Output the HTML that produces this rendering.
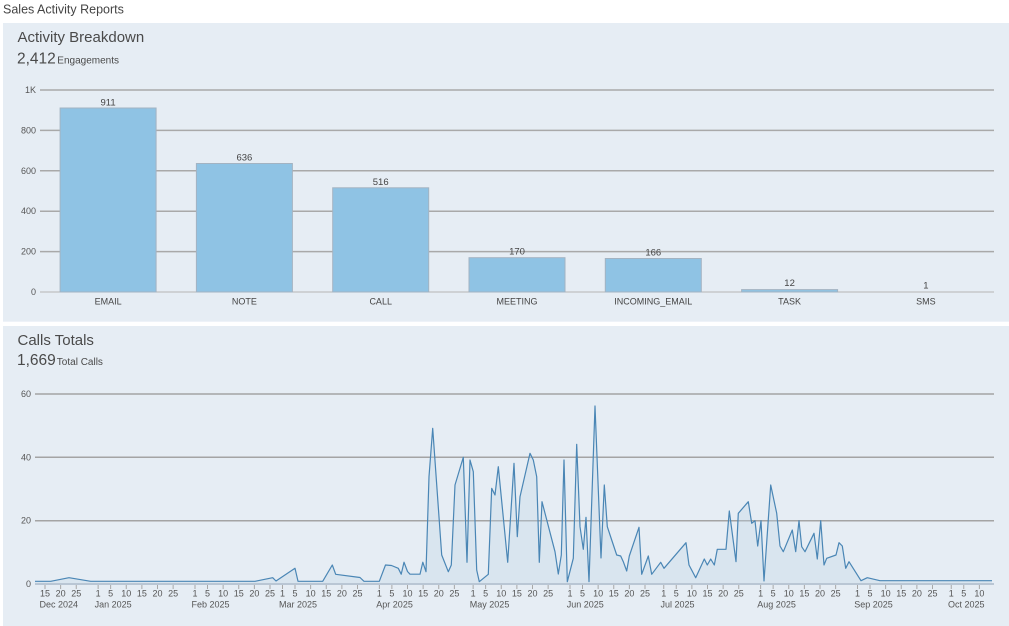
<!DOCTYPE html>
<html>
<head>
<meta charset="utf-8">
<style>
  html,body{margin:0;padding:0;background:#ffffff;}
  body{width:1009px;height:626px;overflow:hidden;}
  svg{display:block;font-family:"Liberation Sans",Arial,sans-serif;}
</style>
</head>
<body>
<svg width="1009" height="626" viewBox="0 0 1009 626" xmlns="http://www.w3.org/2000/svg">
  <rect x="0" y="0" width="1009" height="626" fill="#ffffff"/>
  <text x="3" y="13.5" font-size="12.5" fill="#444">Sales Activity Reports</text>

  <!-- Panel 1 -->
  <rect x="3" y="23" width="1006" height="298.7" fill="#e6edf4"/>
  <text x="17.5" y="42" font-size="15" fill="#4a4a4a">Activity Breakdown</text>
  <text x="17" y="63.3" font-size="15.5" fill="#4a4a4a">2,412<tspan font-size="10" dx="1.5">Engagements</tspan></text>

  <g font-size="9" fill="#555" text-anchor="end">
    <text x="36" y="93">1K</text>
    <text x="36" y="133.4">800</text>
    <text x="36" y="173.8">600</text>
    <text x="36" y="214.2">400</text>
    <text x="36" y="254.6">200</text>
    <text x="36" y="295">0</text>
  </g>
  <g stroke="#a9a9a9" stroke-width="1.5">
    <line x1="40" y1="90" x2="994" y2="90"/>
    <line x1="40" y1="130.4" x2="994" y2="130.4"/>
    <line x1="40" y1="170.8" x2="994" y2="170.8"/>
    <line x1="40" y1="211.2" x2="994" y2="211.2"/>
    <line x1="40" y1="251.6" x2="994" y2="251.6"/>
  </g>
  <line x1="40" y1="292" x2="994" y2="292" stroke="#b5b5b5" stroke-width="1"/>

  <g fill="#8fc3e4" stroke="#a3b3c2" stroke-width="1">
    <rect x="60.1" y="108" width="96" height="184"/>
    <rect x="196.4" y="163.5" width="96" height="128.5"/>
    <rect x="332.7" y="187.8" width="96" height="104.2"/>
    <rect x="469" y="257.7" width="96" height="34.3"/>
    <rect x="605.3" y="258.5" width="96" height="33.5"/>
    <rect x="741.6" y="289.6" width="96" height="2.4"/>
  </g>
  <g font-size="9.5" fill="#444" text-anchor="middle">
    <text x="108.1" y="105.5">911</text>
    <text x="244.4" y="160.5">636</text>
    <text x="380.7" y="184.8">516</text>
    <text x="517" y="254.7">170</text>
    <text x="653.3" y="255.5">166</text>
    <text x="789.6" y="286">12</text>
    <text x="925.9" y="288.5">1</text>
  </g>
  <g font-size="9" fill="#444" text-anchor="middle">
    <text x="108.1" y="304.3">EMAIL</text>
    <text x="244.4" y="304.3">NOTE</text>
    <text x="380.7" y="304.3">CALL</text>
    <text x="517" y="304.3">MEETING</text>
    <text x="653.3" y="304.3">INCOMING_EMAIL</text>
    <text x="789.6" y="304.3">TASK</text>
    <text x="925.9" y="304.3">SMS</text>
  </g>

  <!-- Panel 2 -->
  <rect x="3" y="326" width="1006" height="300" fill="#e6edf4"/>
  <text x="17.5" y="345" font-size="15" fill="#4a4a4a">Calls Totals</text>
  <text x="17" y="365" font-size="15.5" fill="#4a4a4a">1,669<tspan font-size="10" dx="1">Total Calls</tspan></text>

  <g font-size="9" fill="#555" text-anchor="end">
    <text x="31" y="397">60</text>
    <text x="31" y="460.3">40</text>
    <text x="31" y="523.7">20</text>
    <text x="31" y="587">0</text>
  </g>
  <g stroke="#a4a4a4" stroke-width="1.5">
    <line x1="35" y1="394" x2="994" y2="394"/>
    <line x1="35" y1="457.3" x2="994" y2="457.3"/>
    <line x1="35" y1="520.7" x2="994" y2="520.7"/>
  </g>

  <path fill="rgba(190,210,230,0.32)" stroke="none" d="M35,584 L35,581.3 L50.7,581.3 L69,577.7 L90.7,581.3 L255,581.3 L272.7,577.7 L276,581 L295,568.3 L298,581.3 L322.7,581.3 L332.3,565 L335.7,574.3 L360,577.5 L364,581.3 L379.3,581.3 L385.5,565 L391.5,565.5 L398.3,568.3 L401.2,574.2 L404,562.2 L407.5,571.5 L410,574.2 L420,574.2 L422.8,562.2 L426,571.7 L429,476.7 L432.7,428.3 L441.7,555 L448.3,571.7 L451.3,565 L455,485 L463.3,457.3 L467,562.3 L470,460 L473.3,471.7 L476.7,570 L479.3,581.7 L488.3,574.3 L491.7,488.3 L495,495 L498.3,466.7 L507.7,562.3 L514,463.3 L517.3,536.7 L520,496.7 L530,453.3 L533.3,460 L536.7,476.7 L539.3,562.3 L542,501.7 L555,551.7 L558.3,574 L561.3,555 L564,460 L567.3,581.7 L573.3,558.3 L576.7,444.3 L580,526.7 L583.3,549.3 L586,517.3 L589,581.7 L595,406 L601,558 L604.3,485 L607.3,526.7 L611.7,540 L616.7,555 L620.7,556 L623.3,561.7 L626.7,571 L629.3,556 L639,527.3 L641.7,574.3 L648.3,556 L651.7,574.3 L660.7,562.3 L664,568.3 L686,542.7 L689,565 L695.7,577.7 L704.3,559 L707.3,565 L710.7,559 L714.3,565 L717.3,549.3 L726,549.3 L729.3,511 L736,561.7 L738.3,513.3 L748.3,501.7 L751.7,523.3 L755,520.7 L757.7,546 L761,520.7 L764,581 L770.7,485 L776.7,513.3 L780,546 L783.3,551.7 L792.3,530 L795.7,551.7 L799,520.7 L801.7,546.7 L805,551.7 L814,533.3 L817.3,559 L820.7,520.7 L824,565 L826.7,558.3 L836,555 L839,542.7 L842.3,546 L845.7,568.3 L849,561.7 L861,580.7 L867.3,577.7 L880,580.7 L992,580.7 L992,584 Z"/>
  <polyline fill="none" stroke="#4a86b5" stroke-width="1.2" stroke-linejoin="round" points="35,581.3 50.7,581.3 69,577.7 90.7,581.3 255,581.3 272.7,577.7 276,581 295,568.3 298,581.3 322.7,581.3 332.3,565 335.7,574.3 360,577.5 364,581.3 379.3,581.3 385.5,565 391.5,565.5 398.3,568.3 401.2,574.2 404,562.2 407.5,571.5 410,574.2 420,574.2 422.8,562.2 426,571.7 429,476.7 432.7,428.3 441.7,555 448.3,571.7 451.3,565 455,485 463.3,457.3 467,562.3 470,460 473.3,471.7 476.7,570 479.3,581.7 488.3,574.3 491.7,488.3 495,495 498.3,466.7 507.7,562.3 514,463.3 517.3,536.7 520,496.7 530,453.3 533.3,460 536.7,476.7 539.3,562.3 542,501.7 555,551.7 558.3,574 561.3,555 564,460 567.3,581.7 573.3,558.3 576.7,444.3 580,526.7 583.3,549.3 586,517.3 589,581.7 595,406 601,558 604.3,485 607.3,526.7 611.7,540 616.7,555 620.7,556 623.3,561.7 626.7,571 629.3,556 639,527.3 641.7,574.3 648.3,556 651.7,574.3 660.7,562.3 664,568.3 686,542.7 689,565 695.7,577.7 704.3,559 707.3,565 710.7,559 714.3,565 717.3,549.3 726,549.3 729.3,511 736,561.7 738.3,513.3 748.3,501.7 751.7,523.3 755,520.7 757.7,546 761,520.7 764,581 770.7,485 776.7,513.3 780,546 783.3,551.7 792.3,530 795.7,551.7 799,520.7 801.7,546.7 805,551.7 814,533.3 817.3,559 820.7,520.7 824,565 826.7,558.3 836,555 839,542.7 842.3,546 845.7,568.3 849,561.7 861,580.7 867.3,577.7 880,580.7 992,580.7"/>

  <line x1="35" y1="584" x2="994" y2="584" stroke="#b9c6d4" stroke-width="2"/>

  <g stroke="#a8a8a8" stroke-width="1">
    <path d="M45,585V589 M60.63,585V589 M76.25,585V589 M98.13,585V589 M110.63,585V589 M126.25,585V589 M141.88,585V589 M157.5,585V589 M173.13,585V589 M195,585V589 M207.5,585V589 M223.13,585V589 M238.75,585V589 M254.38,585V589 M270,585V589 M282.5,585V589 M295,585V589 M310.63,585V589 M326.25,585V589 M341.88,585V589 M357.5,585V589 M379.38,585V589 M391.88,585V589 M407.5,585V589 M423.13,585V589 M438.75,585V589 M454.38,585V589 M473.13,585V589 M485.63,585V589 M501.25,585V589 M516.88,585V589 M532.5,585V589 M548.13,585V589 M570,585V589 M582.5,585V589 M598.13,585V589 M613.75,585V589 M629.38,585V589 M645,585V589 M663.75,585V589 M676.25,585V589 M691.88,585V589 M707.5,585V589 M723.13,585V589 M738.75,585V589 M760.63,585V589 M773.13,585V589 M788.75,585V589 M804.38,585V589 M820,585V589 M835.63,585V589 M857.5,585V589 M870,585V589 M885.63,585V589 M901.25,585V589 M916.88,585V589 M932.5,585V589 M951.25,585V589 M963.75,585V589 M979.38,585V589"/>
  </g>
  <g font-size="9" fill="#555" text-anchor="middle">
    <text x="45" y="596.5">15</text><text x="60.63" y="596.5">20</text><text x="76.25" y="596.5">25</text>
    <text x="98.13" y="596.5">1</text><text x="110.63" y="596.5">5</text><text x="126.25" y="596.5">10</text><text x="141.88" y="596.5">15</text><text x="157.5" y="596.5">20</text><text x="173.13" y="596.5">25</text>
    <text x="195" y="596.5">1</text><text x="207.5" y="596.5">5</text><text x="223.13" y="596.5">10</text><text x="238.75" y="596.5">15</text><text x="254.38" y="596.5">20</text><text x="270" y="596.5">25</text>
    <text x="282.5" y="596.5">1</text><text x="295" y="596.5">5</text><text x="310.63" y="596.5">10</text><text x="326.25" y="596.5">15</text><text x="341.88" y="596.5">20</text><text x="357.5" y="596.5">25</text>
    <text x="379.38" y="596.5">1</text><text x="391.88" y="596.5">5</text><text x="407.5" y="596.5">10</text><text x="423.13" y="596.5">15</text><text x="438.75" y="596.5">20</text><text x="454.38" y="596.5">25</text>
    <text x="473.13" y="596.5">1</text><text x="485.63" y="596.5">5</text><text x="501.25" y="596.5">10</text><text x="516.88" y="596.5">15</text><text x="532.5" y="596.5">20</text><text x="548.13" y="596.5">25</text>
    <text x="570" y="596.5">1</text><text x="582.5" y="596.5">5</text><text x="598.13" y="596.5">10</text><text x="613.75" y="596.5">15</text><text x="629.38" y="596.5">20</text><text x="645" y="596.5">25</text>
    <text x="663.75" y="596.5">1</text><text x="676.25" y="596.5">5</text><text x="691.88" y="596.5">10</text><text x="707.5" y="596.5">15</text><text x="723.13" y="596.5">20</text><text x="738.75" y="596.5">25</text>
    <text x="760.63" y="596.5">1</text><text x="773.13" y="596.5">5</text><text x="788.75" y="596.5">10</text><text x="804.38" y="596.5">15</text><text x="820" y="596.5">20</text><text x="835.63" y="596.5">25</text>
    <text x="857.5" y="596.5">1</text><text x="870" y="596.5">5</text><text x="885.63" y="596.5">10</text><text x="901.25" y="596.5">15</text><text x="916.88" y="596.5">20</text><text x="932.5" y="596.5">25</text>
    <text x="951.25" y="596.5">1</text><text x="963.75" y="596.5">5</text><text x="979.38" y="596.5">10</text>
  </g>
  <g font-size="9" fill="#555">
    <text x="39.5" y="607.5">Dec 2024</text>
    <text x="94.6" y="607.5">Jan 2025</text>
    <text x="191.5" y="607.5">Feb 2025</text>
    <text x="279" y="607.5">Mar 2025</text>
    <text x="376.3" y="607.5">Apr 2025</text>
    <text x="469.8" y="607.5">May 2025</text>
    <text x="566.7" y="607.5">Jun 2025</text>
    <text x="660.5" y="607.5">Jul 2025</text>
    <text x="757.3" y="607.5">Aug 2025</text>
    <text x="854.2" y="607.5">Sep 2025</text>
    <text x="948" y="607.5">Oct 2025</text>
  </g>
</svg>
</body>
</html>
